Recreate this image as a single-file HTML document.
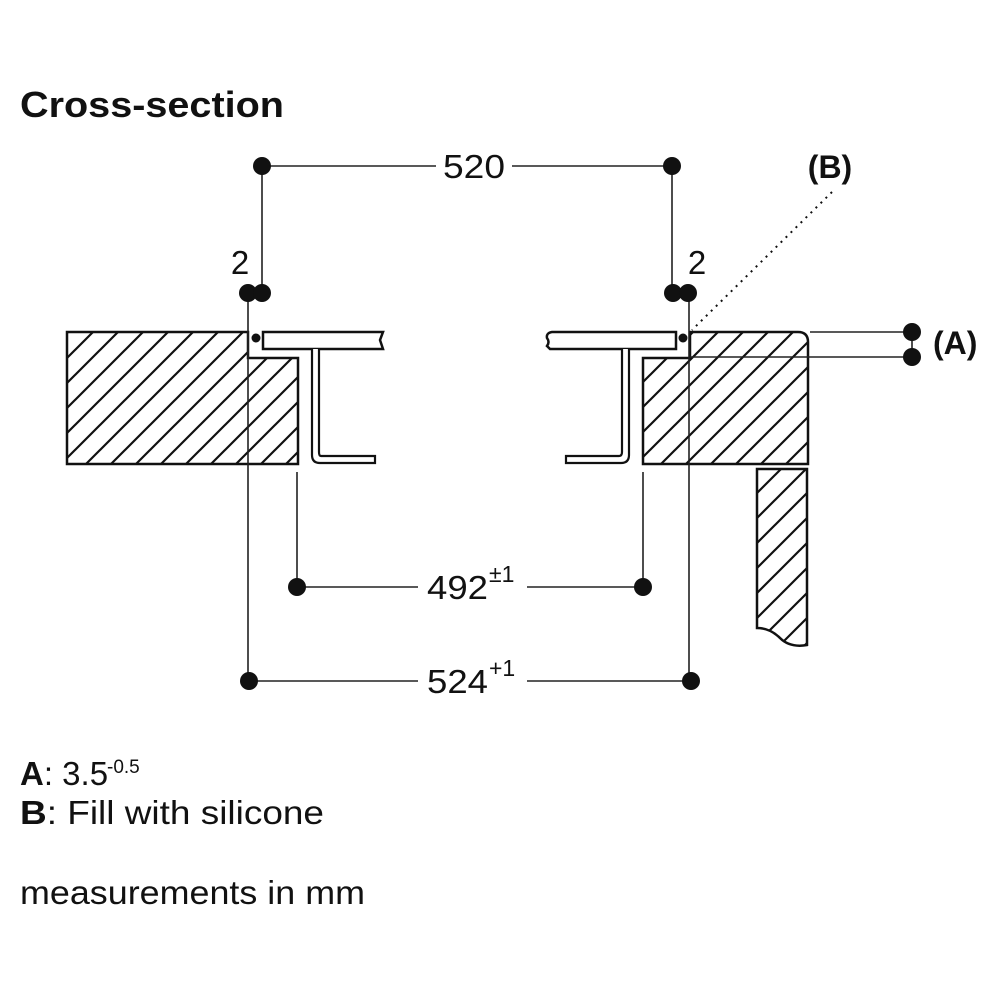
<!DOCTYPE html>
<html><head><meta charset="utf-8"><style>
html,body{margin:0;padding:0;background:#fff;width:1000px;height:1000px;overflow:hidden}
svg{display:block}
text{font-family:"Liberation Sans",Arial,sans-serif;fill:#111}
</style></head><body>
<svg width="1000" height="1000" viewBox="0 0 1000 1000" xmlns="http://www.w3.org/2000/svg">
<defs>
<pattern id="h" patternUnits="userSpaceOnUse" width="25" height="25">
<path d="M0,25 L25,0 M-5,5 L5,-5 M20,30 L30,20" stroke="#111" stroke-width="2.2"/>
</pattern>
</defs>
<text x="20" y="117" font-size="36" font-weight="bold" textLength="264" lengthAdjust="spacingAndGlyphs">Cross-section</text>

<path d="M67,332 H248 V358 H298 V464 H67 Z" fill="url(#h)" stroke="#111" stroke-width="2.5"/>
<path d="M263,332 H383 L380,340 L383,349 H263 Z" fill="#fff" stroke="#111" stroke-width="2.5"/>
<path d="M312,349 V455 Q312,463 320,463 H375 V456 H321 Q319,456 319,452 V349" fill="#fff" stroke="#111" stroke-width="2.2"/>
<circle cx="256" cy="338" r="4.5" fill="#111"/>

<path d="M690,332 H798 Q808,332 808,342 V464 H643 V358 H690 Z" fill="url(#h)" stroke="#111" stroke-width="2.5"/>
<path d="M676,332 H552 Q546,333 547,338 Q550,342 547,346 L550,349 H676 Z" fill="#fff" stroke="#111" stroke-width="2.5"/>
<path d="M629,349 V455 Q629,463 621,463 H566 V456 H619 Q622,456 622,452 V349" fill="#fff" stroke="#111" stroke-width="2.2"/>
<circle cx="683" cy="338" r="4.5" fill="#111"/>
<path d="M757,469 H807 V645 Q790,648 780,638 Q770,628 757,628 Z" fill="url(#h)" stroke="#111" stroke-width="2.5"/>

<g stroke="#222" stroke-width="1.6" fill="none">
<line x1="262" y1="166" x2="436" y2="166"/><line x1="512" y1="166" x2="672" y2="166"/>
<line x1="262" y1="166" x2="262" y2="293"/><line x1="672" y1="166" x2="672" y2="293"/>
<line x1="248" y1="293" x2="248" y2="681"/><line x1="689" y1="293" x2="689" y2="681"/>
<line x1="297" y1="472" x2="297" y2="587"/><line x1="643" y1="472" x2="643" y2="587"/>
<line x1="297" y1="587" x2="418" y2="587"/><line x1="527" y1="587" x2="643" y2="587"/>
<line x1="249" y1="681" x2="418" y2="681"/><line x1="527" y1="681" x2="691" y2="681"/>
<line x1="810" y1="332" x2="912" y2="332"/><line x1="690" y1="357" x2="912" y2="357"/>
<line x1="912" y1="332" x2="912" y2="357"/>
</g>
<line x1="832" y1="192" x2="692" y2="330" stroke="#111" stroke-width="2" stroke-dasharray="2 5"/>
<g fill="#111">
<circle cx="262" cy="166" r="9"/><circle cx="672" cy="166" r="9"/>
<circle cx="248" cy="293" r="9"/><circle cx="262" cy="293" r="9"/>
<circle cx="673" cy="293" r="9"/><circle cx="688" cy="293" r="9"/>
<circle cx="297" cy="587" r="9"/><circle cx="643" cy="587" r="9"/>
<circle cx="249" cy="681" r="9"/><circle cx="691" cy="681" r="9"/>
<circle cx="912" cy="332" r="9"/><circle cx="912" cy="357" r="9"/>
</g>
<text x="443" y="178" font-size="33" textLength="62" lengthAdjust="spacingAndGlyphs">520</text>
<text x="240" y="274" font-size="33" text-anchor="middle">2</text>
<text x="697" y="274" font-size="33" text-anchor="middle">2</text>
<text x="830" y="178" font-size="32" font-weight="bold" text-anchor="middle">(B)</text>
<text x="933" y="354" font-size="32" font-weight="bold">(A)</text>
<text x="427" y="599" font-size="33" textLength="61" lengthAdjust="spacingAndGlyphs">492</text><text x="489" y="582" font-size="23">±1</text>
<text x="427" y="693" font-size="33" textLength="61" lengthAdjust="spacingAndGlyphs">524</text><text x="489" y="676" font-size="23">+1</text>

<text x="20" y="785" font-size="33"><tspan font-weight="bold">A</tspan>:  3.5</text>
<text x="107" y="773" font-size="19">-0.5</text>
<text x="20" y="824" font-size="33" textLength="304" lengthAdjust="spacingAndGlyphs"><tspan font-weight="bold">B</tspan>:  Fill with silicone</text>
<text x="20" y="904" font-size="33" textLength="345" lengthAdjust="spacingAndGlyphs">measurements in mm</text>
</svg>
</body></html>
